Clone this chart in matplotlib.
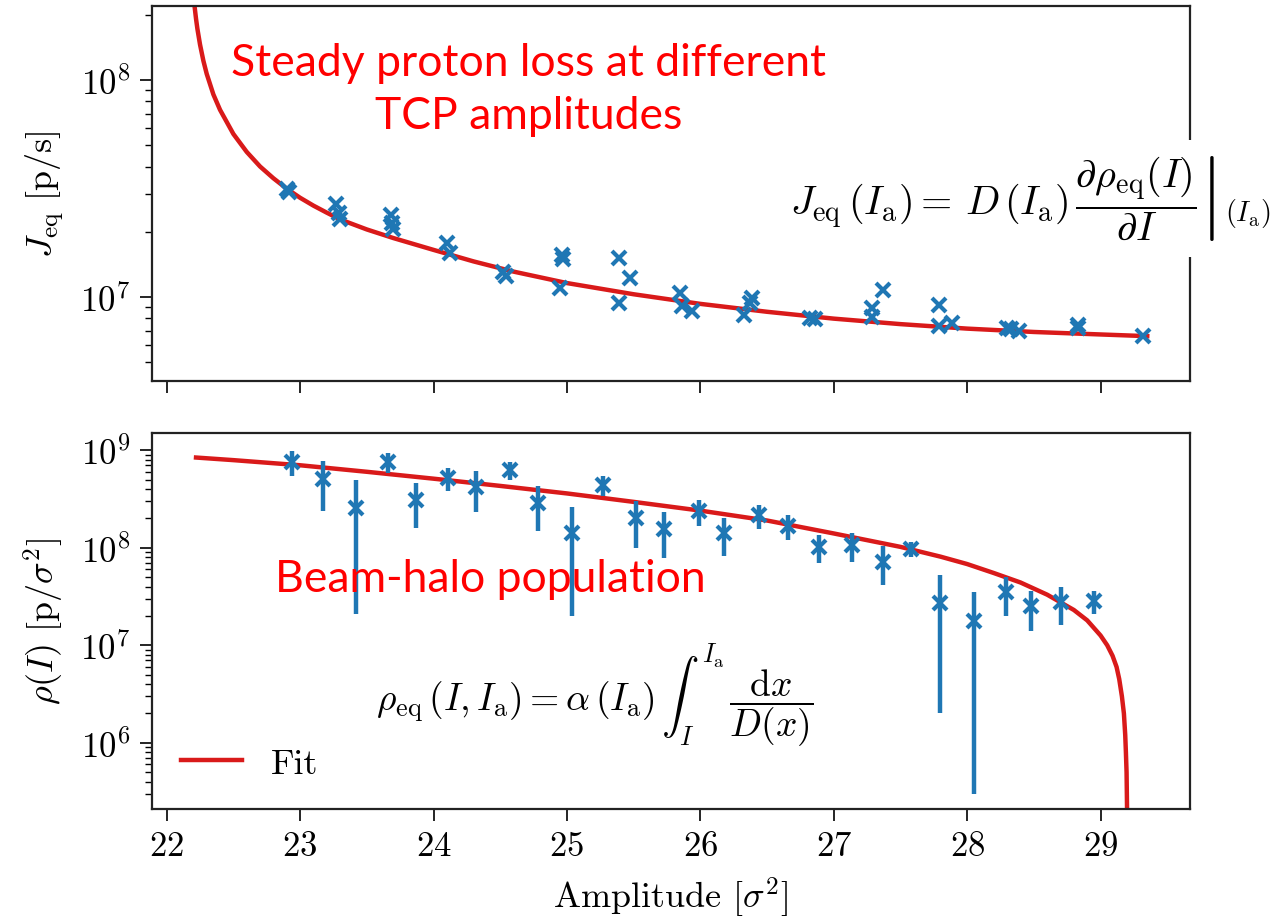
import numpy as np
import matplotlib
matplotlib.use("Agg")
import matplotlib.pyplot as plt

plt.rcParams["mathtext.fontset"] = "cm"
plt.rcParams["font.family"] = ["cmr10", "DejaVu Serif"]
plt.rcParams["axes.formatter.use_mathtext"] = True

# steady loss J_eq, several measurements per amplitude
top_x = [22.90, 22.92, 23.27, 23.29, 23.30, 23.68, 23.69, 23.70, 24.10, 24.12,
         24.52, 24.54, 24.96, 24.97, 24.95, 25.39, 25.39, 25.47, 25.85, 25.86,
         25.94, 26.33, 26.39, 26.37, 26.82, 26.86, 27.29, 27.29, 27.37, 27.79,
         27.79, 27.89, 28.30, 28.39, 28.33, 28.83, 28.83, 29.32]
top_y = [3.15e7, 3.05e7, 2.7e7, 2.45e7, 2.3e7, 2.4e7, 2.2e7, 2.05e7, 1.78e7, 1.6e7,
         1.3e7, 1.25e7, 1.57e7, 1.5e7, 1.1e7, 1.52e7, 9.4e6, 1.22e7, 1.04e7, 9.1e6,
         8.6e6, 8.3e6, 9.9e6, 9.4e6, 8.0e6, 7.9e6, 8.9e6, 8.1e6, 1.08e7, 9.2e6,
         7.35e6, 7.6e6, 7.2e6, 6.97e6, 7.1e6, 7.4e6, 7.2e6, 6.6e6]

# fit curve
jfit_x = [22.205, 22.22, 22.23, 22.25, 22.275, 22.30, 22.35, 22.40, 22.50, 22.60,
          22.70, 22.80, 22.90, 23.00, 23.10, 23.20, 23.30, 23.50, 23.70, 24.00,
          24.30, 24.60, 25.00, 25.50, 26.00, 26.50, 27.00, 27.50, 28.00, 28.50,
          29.00, 29.35]
jfit_y = [2.3e8, 1.92e8, 1.73e8, 1.46e8, 1.23e8, 1.07e8, 8.6e7, 7.3e7, 5.65e7, 4.67e7,
          4.0e7, 3.53e7, 3.16e7, 2.87e7, 2.64e7, 2.45e7, 2.28e7, 2.05e7, 1.87e7, 1.65e7,
          1.46e7, 1.31e7, 1.16e7, 1.03e7, 9.3e6, 8.55e6, 7.95e6, 7.5e6, 7.15e6, 6.9e6,
          6.72e6, 6.6e6]

# beam-halo population with errors
bot_x = [22.94, 23.17, 23.42, 23.66, 23.87, 24.11, 24.32, 24.57, 24.78, 25.04,
         25.27, 25.52, 25.73, 25.99, 26.18, 26.44, 26.66, 26.89, 27.14, 27.37,
         27.58, 27.80, 28.05, 28.29, 28.48, 28.70, 28.95]
bot_y = [7.6e8, 5.05e8, 2.56e8, 7.6e8, 3.1e8, 5.15e8, 4.2e8, 6.2e8, 2.9e8, 1.42e8,
         4.4e8, 2.0e8, 1.57e8, 2.37e8, 1.41e8, 2.14e8, 1.67e8, 1.02e8, 1.07e8, 7.2e7,
         9.8e7, 2.7e7, 1.79e7, 3.5e7, 2.5e7, 2.8e7, 2.85e7]
bot_err = [2.2e8, 2.65e8, 2.35e8, 1.7e8, 1.5e8, 1.35e8, 1.9e8, 1.3e8, 1.4e8, 1.22e8,
           1.0e8, 1.0e8, 7.8e7, 6.9e7, 5.9e7, 5.7e7, 4.7e7, 3.3e7, 3.5e7, 3.1e7,
           1.7e7, 2.5e7, 1.76e7, 1.5e7, 1.1e7, 1.2e7, 7.5e6]

rfit_x = [22.22, 22.50, 23.00, 23.50, 24.00, 24.50, 25.00, 25.50, 26.00, 26.50,
          27.00, 27.50, 27.80, 28.00, 28.20, 28.40, 28.60, 28.80, 28.90, 29.00,
          29.05, 29.09, 29.12, 29.14, 29.16, 29.175, 29.185, 29.19, 29.195, 29.20]
rfit_y = [8.4e8, 7.9e8, 7.0e8, 6.0e8, 5.1e8, 4.3e8, 3.6e8, 2.95e8, 2.4e8, 1.9e8,
          1.4e8, 1.02e8, 8.1e7, 6.8e7, 5.5e7, 4.4e7, 3.3e7, 2.3e7, 1.8e7, 1.26e7,
          1.0e7, 7.8e6, 6.0e6, 4.5e6, 3.0e6, 2.0e6, 1.2e6, 8e5, 5e5, 1.5e5]

blue = "#1f77b4"
red = "#d91a1a"

fig = plt.figure(figsize=(12.86, 9.2), dpi=100)
ax1 = fig.add_axes([0.1182, 0.5848, 0.8071, 0.4076])
ax2 = fig.add_axes([0.1182, 0.1196, 0.8071, 0.4087])

ax1.plot(top_x, top_y, "x", color=blue, ms=10, mew=3, zorder=3)
ax1.plot(jfit_x, jfit_y, "-", color=red, lw=3.2, zorder=2)
ax1.set_yscale("log")
ax1.set_ylim(4.1e6, 2.2e8)
ax1.set_xlim(21.89, 29.67)
ax1.set_xticks(range(22, 30))
ax1.tick_params(axis="x", labelbottom=False)
ax1.set_ylabel(r"$J_{\rm eq}\ [{\rm p/s}]$", fontsize=26, labelpad=10)

ax2.errorbar(bot_x, bot_y, yerr=bot_err, fmt="x", color=blue, ms=10, mew=3,
             elinewidth=3.2, capsize=0, zorder=3)
ax2.plot(rfit_x, rfit_y, "-", color=red, lw=3.2, label="Fit", zorder=2)
ax2.set_yscale("log")
ax2.set_ylim(2.1e5, 1.5e9)
ax2.set_xlim(21.89, 29.67)
ax2.set_xticks(range(22, 30))
ax2.set_xlabel(r"Amplitude [$\sigma^2$]", fontsize=26, labelpad=9)
ax2.set_ylabel(r"$\rho(I)\ [{\rm p}/\sigma^2]$", fontsize=26, labelpad=10)
ax2.legend(loc="lower left", frameon=False, fontsize=26, handlelength=1.7,
           borderaxespad=0.4)

for ax in (ax1, ax2):
    for s in ax.spines.values():
        s.set_linewidth(1.6)
        s.set_color("#222222")
    ax.tick_params(which="major", length=8.5, width=1.2, labelsize=25, pad=7)
    ax.tick_params(which="minor", length=5, width=1.0)

fig.text(0.411, 0.902, "Steady proton loss at different\nTCP amplitudes",
         family="Lato", color="red", fontsize=32, ha="center", va="center",
         linespacing=1.35)
fig.text(0.381, 0.3696, "Beam-halo population", family="Lato", color="red",
         fontsize=32, ha="center", va="center")
fig.text(0.4627, 0.244,
         r"$\rho_{\rm eq}\,(I, I_{\rm a}) = \alpha\,(I_{\rm a})\,\int_I^{I_{\rm a}}\,\dfrac{{\rm d}x}{D(x)}$",
         fontsize=27, ha="center", va="center")
fig.text(0.801, 0.783,
         r"$J_{\rm eq}\,(I_{\rm a}) =\,D\,(I_{\rm a})\,\left.\dfrac{\partial\rho_{\rm eq}(I)}{\partial I}\right|_{(I_{\rm a})}$",
         fontsize=29, ha="center", va="center", zorder=10,
         bbox=dict(facecolor="white", edgecolor="none", pad=10))

fig.savefig("out.png", dpi=100)
